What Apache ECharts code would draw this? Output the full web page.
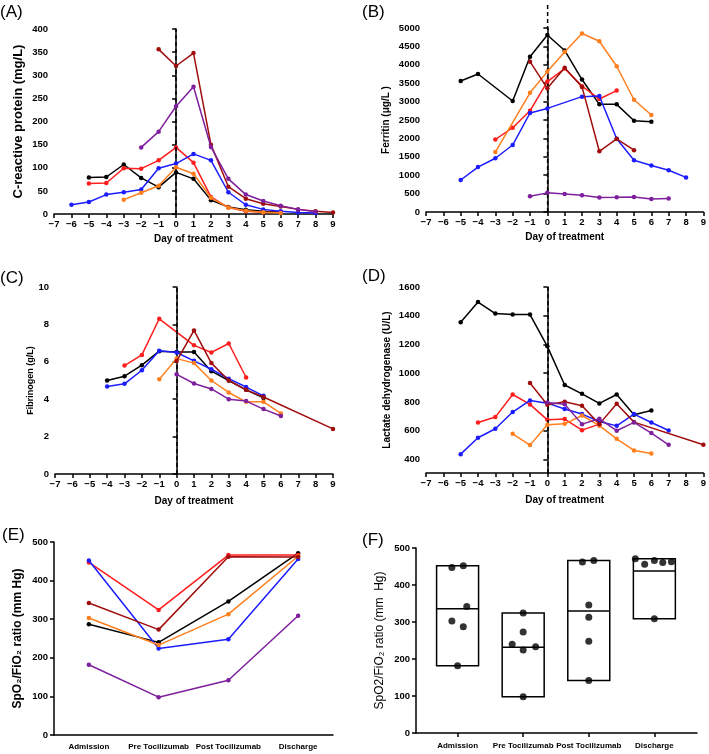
<!DOCTYPE html>
<html><head><meta charset="utf-8">
<script src="https://cdn.jsdelivr.net/npm/echarts@6/dist/echarts.min.js"></script>
<style>html,body{margin:0;padding:0;background:#fff}#c{width:709px;height:754px}</style>
</head><body><div id="c"></div>
<script>
// ---------- DATA ----------
const days = [-7,-6,-5,-4,-3,-2,-1,0,1,2,3,4,5,6,7,8,9];
// (A) C-reactive protein (mg/L)
const crpBlack   = [null,null,79,80,107,78,58,90,76,30,15,9,6,4,null,null,null];
const crpRed     = [null,null,66,67,99,98,116,144,111,37,14,6,4,3,null,null,null];
const crpBlue    = [null,20,26,42,47,53,99,109,130,116,47,20,10,6,3,2,null];
const crpOrange  = [null,null,null,null,31,46,61,101,87,35,14,7,4,2,null,null,null];
const crpDarkred = [null,null,null,null,null,null,356,320,348,150,59,33,22,16,10,6,3];
const crpPurple  = [null,null,null,null,null,144,178,233,275,145,76,42,28,18,10,5,null];
// (B) Ferritin (ug/L)
const ferBlack   = [null,null,3560,3750,null,3016,4220,4810,4390,3600,2925,2925,2480,2455,null,null,null];
const ferRed     = [null,null,null,null,1970,2290,2750,3545,3900,3420,3070,3300,null,null,null,null,null];
const ferBlue    = [null,null,870,1220,1460,1820,2690,2815,null,3135,3150,1990,1405,1265,1135,940,null];
const ferOrange  = [null,null,null,null,1630,null,3240,3815,4350,4850,4640,3960,3050,2635,null,null,null];
const ferDarkred = [null,null,null,null,null,null,4085,3360,3920,3400,1650,1990,1680,null,null,null,null];
const ferPurple  = [null,null,null,null,null,null,430,520,490,455,395,400,410,355,365,null,null];
// (C) Fibrinogen (g/L)
const fibBlack   = [null,null,null,5.0,5.23,5.82,6.57,6.52,6.52,5.5,5.0,4.5,4.07,null,null,null,null];
const fibRed     = [null,null,null,null,5.8,6.37,8.3,null,6.88,6.5,6.98,5.16,null,null,null,null,null];
const fibBlue    = [null,null,null,4.68,4.82,5.55,6.59,6.5,6.05,5.6,5.1,4.65,4.18,null,null,null,null];
const fibOrange  = [null,null,null,null,null,null,5.07,6.17,5.93,5.0,4.36,3.86,3.86,3.24,null,null,null];
const fibDarkred = [null,null,null,null,null,null,null,6.04,7.68,5.93,5.0,4.5,4.12,null,null,null,2.41];
const fibPurple  = [null,null,null,null,null,null,null,5.33,4.84,4.55,4.0,3.9,3.47,3.1,null,null,null];
// (D) Lactate dehydrogenase (U/L)
const ldhBlack   = [null,null,1355,1495,1415,1408,1408,1187,918,857,790,852,711,741,null,null,null];
const ldhRed     = [null,null,null,657,695,852,783,676,681,604,646,null,null,null,null,null,null];
const ldhBlue    = [null,null,437,551,614,730,811,792,751,716,664,634,716,657,602,null,null];
const ldhOrange  = [null,null,null,null,null,579,500,641,648,706,635,544,463,442,null,null,null];
const ldhDarkred = [null,null,null,null,null,null,932,781,801,774,646,788,660,null,null,null,502];
const ldhPurple  = [null,null,null,null,null,null,null,797,785,646,683,600,658,584,502,null,null];
// (E)/(F) SpO2/FiO2 ratio
const stages = ['Admission','Pre Tocilizumab','Post Tocilizumab','Discharge'];
const sfBlack   = [287,240,346,471];
const sfRed     = [447,324,466,466];
const sfBlue    = [452,224,248,456];
const sfOrange  = [303,233,313,463];
const sfDarkred = [342,273,462,461];
const sfPurple  = [182,98,142,309];
// horizontal scatter offsets of dots in (F), in category widths
const jitBlack   = [0.087,-0.168,0,-0.29];
const jitRed     = [-0.087,0,0.077,0];
const jitBlue    = [0.087,0,0,-0.148];
const jitOrange  = [-0.087,0.19,0,0.26];
const jitDarkred = [0.14,0,-0.097,0.128];
const jitPurple  = [0,0,0,0];
const ldhTicks = [400,600,800,1000,1200,1400,1600];
const treatmentDay = 0;

// ---------- STYLE ----------
const FONT = "'Liberation Sans', Arial, 'DejaVu Sans', sans-serif";
const COLORS = {black:'#000000', red:'#ff1c1c', blue:'#1c1cff', orange:'#ff7f1f', darkred:'#a00d0d', purple:'#7e1f9e'};
const order = ['black','red','blue','orange','darkred','purple'];

const panels = [
  {sets:[crpBlack,crpRed,crpBlue,crpOrange,crpDarkred,crpPurple]},
  {sets:[ferBlack,ferRed,ferBlue,ferOrange,ferDarkred,ferPurple]},
  {sets:[fibBlack,fibRed,fibBlue,fibOrange,fibDarkred,fibPurple]},
  {sets:[ldhBlack,ldhRed,ldhBlue,ldhOrange,ldhDarkred,ldhPurple]}
];
const sfSets = [sfBlack,sfRed,sfBlue,sfOrange,sfDarkred,sfPurple];
const jitSets = [jitBlack,jitRed,jitBlue,jitOrange,jitDarkred,jitPurple];

const axisLine = {lineStyle:{color:'#000', width:1.5}};
const axisTick = {length:4, lineStyle:{color:'#000', width:1.5}};
const lab = (o) => Object.assign({color:'#000', fontWeight:'bold', fontSize:9.5, fontFamily:FONT}, o||{});
const nameStyle = (o) => Object.assign({color:'#000', fontWeight:'bold', fontSize:10, fontFamily:FONT}, o||{});
const plain = v => String(v);

const grids = [
  {left:54, top:29, width:279, height:185},
  {left:426, top:28, width:278, height:184},
  {left:55, top:287, width:278, height:187},
  {left:426, top:287, width:278, height:186},
  {left:54, top:542, width:279, height:193},
  {left:416, top:548, width:281, height:185},
  {left:426, top:2, width:278, height:210}   // taller overlay for (B)'s dashed day-0 line
];

function dayAxis(gi){
  return {type:'value', gridIndex:gi, min:-7, max:9, interval:1,
    name:'Day of treatment', nameLocation:'middle', nameGap: gi<2 ? 20 : 22, nameTextStyle:nameStyle(),
    axisLine, axisTick, splitLine:{show:false},
    axisLabel:lab({margin:5, formatter:v=>String(v).replace('-','\u2212')})};
}
function yAx(gi, o){
  return Object.assign({type:'value', gridIndex:gi, nameLocation:'middle', nameRotate:90,
    nameTextStyle:nameStyle(), axisLine:{show:true, lineStyle:{color:'#000', width:1.5}}, axisTick:{show:true, length:4, lineStyle:{color:'#000', width:1.5}},
    splitLine:{show:false}, axisLabel:lab({margin:6, formatter:plain})}, o);
}

const xAxes = [dayAxis(0), dayAxis(1), dayAxis(2), dayAxis(3),
  {type:'category', gridIndex:4, data:stages, boundaryGap:true, axisLine, axisTick:Object.assign({alignWithLabel:true}, axisTick),
   axisLabel:lab({fontSize:8, margin:8, interval:0})},
  {type:'value', gridIndex:5, min:0.366, max:4.65, axisLine, splitLine:{show:false},
   axisTick:Object.assign({customValues:[1,2,3,4]}, axisTick),
   axisLabel:lab({fontSize:8, margin:9, customValues:[1,2,3,4], formatter:v=>stages[Math.round(v)-1]})},
  {type:'value', gridIndex:6, min:-7, max:9, show:false}
];
const yAxes = [
  yAx(0,{min:0,max:400,interval:50,name:'C-reactive protein (mg/L)',nameGap:29,nameTextStyle:nameStyle({fontSize:13})}),
  yAx(1,{min:0,max:5000,interval:500,name:'Ferritin (\u03bcg/L )',nameGap:35}),
  yAx(2,{min:0,max:10,interval:2,name:'Fibrinogen (g/L)',nameGap:19,nameTextStyle:nameStyle({fontSize:9})}),
  yAx(3,{min:306,max:1600,name:'Lactate dehydrogenase (U/L)',nameGap:34,
     axisTick:{show:true,length:4,lineStyle:{color:'#000',width:1.5},customValues:ldhTicks},
     axisLabel:lab({margin:6,customValues:ldhTicks,formatter:plain})}),
  yAx(4,{min:0,max:500,interval:100,name:'SpO\u2082/FiO\u2082 ratio (mm Hg)',nameGap:30,nameTextStyle:nameStyle({fontSize:12})}),
  yAx(5,{min:0,max:500,interval:100,name:'SpO2/FiO\u2082 ratio (mm  Hg)',nameGap:30,nameTextStyle:nameStyle({fontWeight:'normal',fontSize:12})}),
  {type:'value', gridIndex:6, min:0, max:1, show:false}
];

const dashStyle = {color:'#000', width:1.5, type:[4,3]};
const series = [];
panels.forEach((p, pi) => {
  p.sets.forEach((arr, si) => {
    const data = [];
    days.forEach((d, i) => { if (arr[i] !== null) data.push([d, arr[i]]); });
    const s = {type:'line', xAxisIndex:pi, yAxisIndex:pi, data, symbol:'circle', symbolSize:4.5,
      lineStyle:{color:COLORS[order[si]], width:1.5}, itemStyle:{color:COLORS[order[si]]}, z:3+si, animation:false};
    if (si === 0 && pi !== 1) {
      s.markLine = {silent:true, symbol:'none', animation:false, label:{show:false},
        lineStyle:dashStyle, data:[{xAxis:treatmentDay}]};
    }
    series.push(s);
  });
});
// (B) dashed day-0 line, extending above the plot like the original
series.push({type:'line', xAxisIndex:6, yAxisIndex:6, data:[[treatmentDay,0],[treatmentDay,1]], symbol:'none',
  lineStyle:dashStyle, z:1, silent:true, animation:false});
sfSets.forEach((arr, si) => {
  series.push({type:'line', xAxisIndex:4, yAxisIndex:4, data:arr, symbol:'circle', symbolSize:4.5,
    lineStyle:{color:COLORS[order[si]], width:1.5}, itemStyle:{color:COLORS[order[si]]}, z:3+si, animation:false});
});
// (F) floating boxes: min-max with mean line
const boxData = stages.map((s, i) => {
  const vals = sfSets.map(a => a[i]);
  const mean = vals.reduce((a,b)=>a+b,0)/vals.length;
  return [i+1, Math.min(...vals), Math.max(...vals), mean];
});
series.push({type:'custom', xAxisIndex:5, yAxisIndex:5, data:boxData, z:2, animation:false,
  renderItem:(params, api) => {
    const x = api.value(0);
    const lo = api.coord([x, api.value(1)]);
    const hi = api.coord([x, api.value(2)]);
    const m = api.coord([x, api.value(3)]);
    const w = api.size([0.64, 0])[0];
    return {type:'group', children:[
      {type:'rect', shape:{x:lo[0]-w/2, y:hi[1], width:w, height:lo[1]-hi[1]}, style:{fill:'none', stroke:'#000', lineWidth:1.5}},
      {type:'line', shape:{x1:lo[0]-w/2, y1:m[1], x2:lo[0]+w/2, y2:m[1]}, style:{stroke:'#000', lineWidth:1.5}}
    ]};
  }});
const dots = [];
sfSets.forEach((arr, si) => arr.forEach((v, i) => dots.push([i+1+jitSets[si][i], v])));
series.push({type:'scatter', xAxisIndex:5, yAxisIndex:5, data:dots, symbol:'circle', symbolSize:7,
  itemStyle:{color:'#000'}, z:4, animation:false});

const labels = [['(A)',0,4],['(B)',362,4],['(C)',0,270],['(D)',362,268],['(E)',2,527],['(F)',362,532]];
const option = {
  animation:false,
  grid:grids, xAxis:xAxes, yAxis:yAxes, series,
  graphic: labels.map(l => ({type:'text', left:l[1], top:l[2], style:{text:l[0], font:'17px '+FONT, fill:'#000'}}))
};
const chart = echarts.init(document.getElementById('c'), null, {renderer:'canvas'});
chart.setOption(option);
</script>
</body></html>
